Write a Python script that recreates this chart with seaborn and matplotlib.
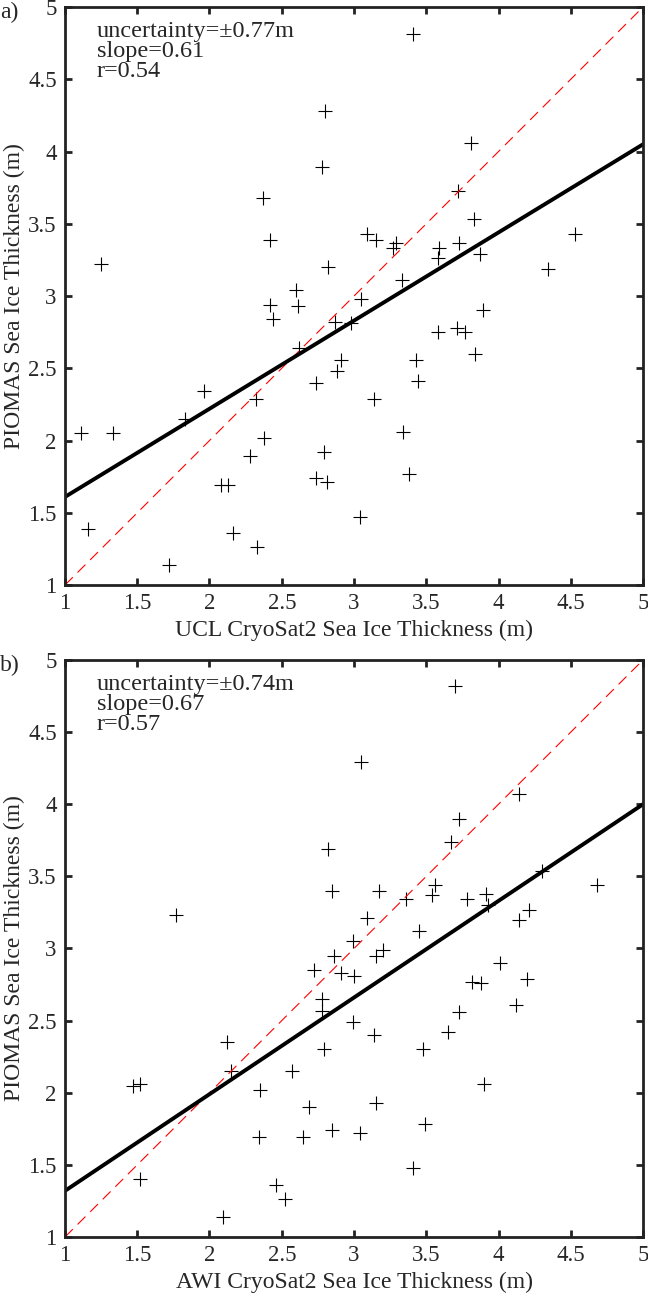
import numpy as np
import pandas as pd
import matplotlib
matplotlib.use('Agg')
import matplotlib.pyplot as plt
import seaborn as sns

# UCL CryoSat2 vs PIOMAS (panel a)
ucl_x = [2.80, 2.78, 2.37, 2.42, 1.25, 2.82, 2.60, 2.42, 2.61, 3.41, 3.81, 3.72, 3.83, 3.09,
         3.15, 3.29, 3.27, 3.59, 3.73, 3.58, 4.53, 3.87, 3.33, 4.34, 3.05, 3.89, 2.44, 2.87,
         2.62, 2.91, 2.88, 2.74, 1.96, 2.32, 1.83, 1.11, 1.33, 2.38, 2.79, 2.28, 2.08, 2.13,
         2.74, 2.81, 1.16, 2.16, 2.33, 1.72, 2.98, 3.58, 3.71, 3.77, 3.84, 3.43, 3.44, 3.14,
         3.34, 3.38, 3.04]
ucl_y = [4.28, 3.89, 3.68, 3.39, 3.22, 3.20, 3.04, 2.94, 2.93, 4.81, 4.06, 3.73, 3.53, 3.43,
         3.39, 3.37, 3.33, 3.33, 3.37, 3.26, 3.43, 3.29, 3.11, 3.19, 2.98, 2.90, 2.84, 2.82,
         2.64, 2.56, 2.48, 2.40, 2.34, 2.29, 2.15, 2.05, 2.05, 2.02, 1.92, 1.89, 1.69, 1.69,
         1.74, 1.71, 1.39, 1.36, 1.26, 1.14, 2.81, 2.75, 2.78, 2.75, 2.60, 2.56, 2.41, 2.29,
         2.06, 1.77, 1.47]

# AWI CryoSat2 vs PIOMAS (panel b)
awi_x = [2.82, 2.85, 1.77, 3.70, 3.05, 4.14, 3.73, 3.67, 4.30, 4.68, 3.17, 3.56, 3.54,
         3.36, 3.78, 3.91, 3.93, 4.21, 4.14, 3.09, 3.45, 2.99, 3.20, 3.15, 4.01, 2.91,
         3.00, 3.82, 3.88, 4.20, 4.12, 3.73, 2.99, 3.65, 3.14, 3.48, 3.90, 3.15, 3.49,
         3.04, 3.41, 2.86, 2.72, 2.78, 2.78, 2.79, 2.12, 2.15, 2.57, 1.47, 1.52, 2.35,
         2.69, 2.34, 2.65, 2.85, 1.52, 2.46, 2.52, 2.09]
awi_y = [3.69, 3.40, 3.23, 4.82, 4.29, 4.07, 3.90, 3.74, 3.54, 3.44, 3.40, 3.44, 3.37,
         3.34, 3.34, 3.38, 3.30, 3.27, 3.20, 3.21, 3.12, 3.05, 2.99, 2.95, 2.90, 2.83,
         2.81, 2.77, 2.76, 2.79, 2.61, 2.56, 2.49, 2.42, 2.40, 2.30, 2.06, 1.93, 1.78,
         1.72, 1.48, 2.95, 2.85, 2.65, 2.57, 2.30, 2.35, 2.15, 2.15, 2.05, 2.06, 2.02,
         1.90, 1.69, 1.69, 1.74, 1.40, 1.36, 1.26, 1.14]

# fitted lines as shown in the figure (slope, intercept)
ucl_fit = [0.61, 1.00]
awi_fit = [0.67, 0.65]

panels = [
    ('a)', ucl_x, ucl_y, ucl_fit, 'UCL CryoSat2 Sea Ice Thickness (m)', '0.77', '0.61', '0.54'),
    ('b)', awi_x, awi_y, awi_fit, 'AWI CryoSat2 Sea Ice Thickness (m)', '0.74', '0.67', '0.57'),
]

ticks = [1, 1.5, 2, 2.5, 3, 3.5, 4, 4.5, 5]
tick_labels = ['1', '1.5', '2', '2.5', '3', '3.5', '4', '4.5', '5']

sns.set_style('ticks')
plt.rcParams['font.family'] = ['Liberation Serif', 'DejaVu Serif']

fig = plt.figure(figsize=(6.48, 13.01), dpi=100)
ax_pos = [[0.1003, 0.5503, 0.892, 0.4443], [0.1003, 0.0492, 0.892, 0.4435]]

for (tag, xs, ys, fit, xlabel, unc, slope, r), pos in zip(panels, ax_pos):
    ax = fig.add_axes(pos)
    df = pd.DataFrame({'x': xs, 'y': ys})

    # 1:1 line
    ax.plot([1, 5], [1, 5], color='red', lw=0.8, dashes=(10, 6))
    # fitted line
    line_x = np.array([1.0, 5.0])
    sns.lineplot(x=line_x, y=fit[0] * line_x + fit[1], ax=ax, color='black', lw=2.8)
    sns.scatterplot(data=df, x='x', y='y', ax=ax, marker='+', s=95, color='black',
                    linewidth=0.8)

    ax.set_xlim(1, 5)
    ax.set_ylim(1, 5)
    ax.set_xticks(ticks)
    ax.set_xticklabels(tick_labels)
    ax.set_yticks(ticks)
    ax.set_yticklabels(tick_labels)
    ax.tick_params(direction='in', top=True, right=True, length=5, width=2,
                   labelsize=16.5, pad=6, color='#222222')
    for sp in ax.spines.values():
        sp.set_linewidth(2)
        sp.set_color('#222222')
    ax.set_xlabel(xlabel, fontsize=17, labelpad=4)
    ax.set_ylabel('PIOMAS Sea Ice Thickness (m)', fontsize=17, labelpad=2)

    ax.text(0.055, 0.975, f'uncertainty=\u00b1{unc}m\nslope={slope}\nr={r}',
            transform=ax.transAxes, ha='left', va='top', fontsize=17.5, linespacing=0.92)
    ax.text(-0.113, 0.99, tag, transform=ax.transAxes, ha='left', va='center', fontsize=17)

fig.savefig('out.png', dpi=100)
